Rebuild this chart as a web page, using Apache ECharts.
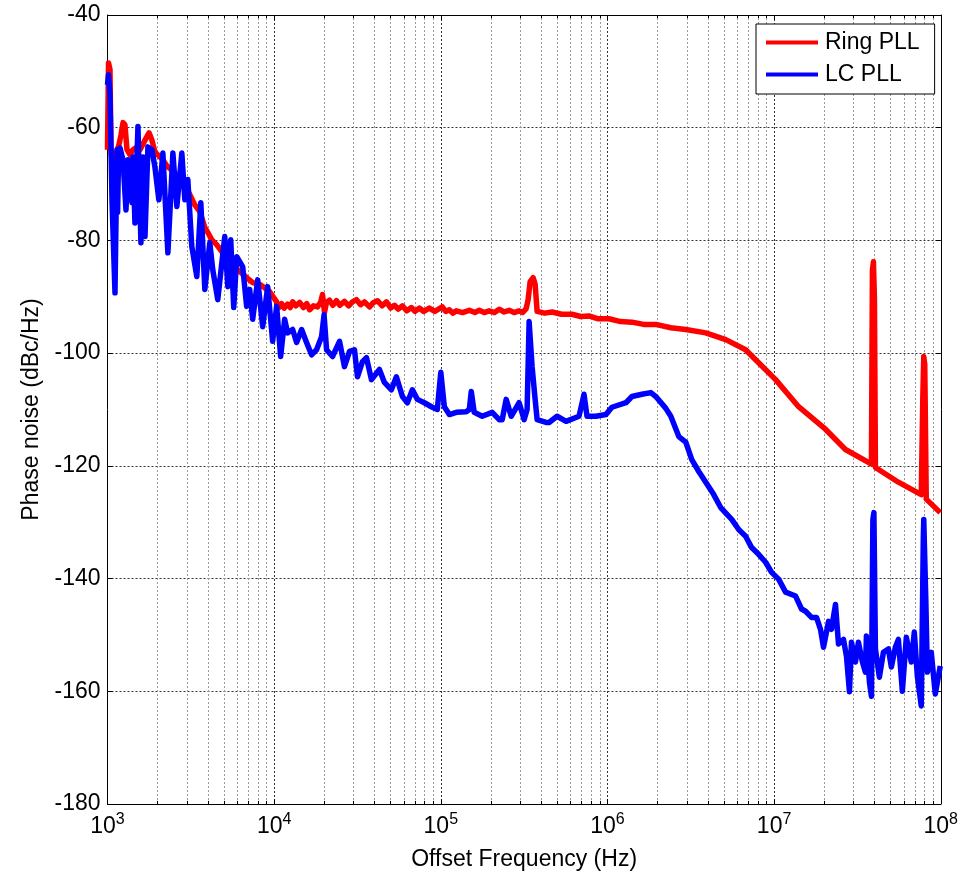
<html>
<head>
    <meta charset="utf-8">
    <title>Phase noise</title>
    <script src="https://cdn.jsdelivr.net/npm/echarts@6/dist/echarts.min.js"></script>
</head>
<style>
    body{
        margin: 0;
        background: #fff;
    }
    #chart{
        width: 961px;
        height: 876px;
    }
</style>
<body>
<div id="chart"></div>
<script>
    // values: offset frequency (Hz) and phase noise (dBc/Hz)
    var ringFreq = [1000,1014,1035,1049,1079,1124,1172,1205,1239,1273,1309,1365,1422,1503,1567,1679,1775,1847,1924,2033,2149,2271,2433,2607,2717,2911,3119,3342,3581,3837,4000,4227,4529,4853,5272,5800,6213,6840,7432,8185,8770,9400,
        10350,10700,11090,11500,12050,12500,12910,13500,14220,15000,15700,16330,17200,18200,19000,19500,20050,20600,21480,22500,23650,24800,26420,28000,29500,31190,33000,34830,37330,39500,41690,44500,47210,50000,52720,55500,58800,62500,66530,70000,74300,79000,85310,92000,
        102100,107000,112500,118000,123900,135000,148300,160000,170200,182000,195100,210000,224100,240000,257100,275000,295100,310000,325100,334200,343600,358100,368200,378500,420000,465600,530000,612600,690000,774400,880000,1021000,1200000,1403000,1650000,1951000,2400000,2951000,3890000,5129000,6745000,8072000,10210000,14030000,20330000,26790000,36810000,38370000,38900000,39450000,40000000,40550000,55680000,76390000,78000000,79060000,80170000,81850000,99310000];
    var ringDb = [-63.9,-48.5,-49.7,-63.9,-67.5,-64.8,-63.0,-61.3,-59.1,-59.5,-63.9,-64.8,-63.9,-63.4,-63.9,-62.2,-60.9,-62.2,-64.3,-65.0,-65.7,-66.8,-67.5,-68.4,-69.2,-70.1,-71.9,-73.7,-74.9,-77.7,-78.6,-79.9,-80.8,-82.0,-83.4,-84.8,-85.5,-86.6,-87.5,-87.8,-88.4,-89.1,
        -90.9,-91.9,-91.2,-92.0,-91.3,-91.9,-90.9,-91.6,-91.0,-91.9,-91.2,-92.3,-91.6,-91.8,-91.0,-89.6,-92.8,-91.0,-90.6,-91.5,-90.7,-91.5,-90.8,-91.6,-90.9,-90.5,-91.4,-90.9,-91.8,-91.0,-90.7,-91.6,-90.9,-92.0,-91.5,-92.2,-91.6,-92.5,-91.9,-92.6,-92.0,-92.6,-92.0,-92.6,
        -91.8,-92.6,-92.3,-92.9,-92.5,-92.8,-92.4,-92.8,-92.4,-92.8,-92.5,-92.8,-92.2,-92.7,-92.4,-92.8,-92.5,-92.8,-92.1,-90.5,-87.3,-86.6,-87.8,-92.6,-92.9,-92.7,-93.1,-93.1,-93.5,-93.4,-93.9,-93.9,-94.4,-94.5,-94.9,-94.9,-95.5,-95.8,-96.4,-97.6,-99.4,-101.7,-104.7,-109.5,-113.5,-117.1,-119.4,-119.7,-85.2,-83.8,-90.5,-120.3,-122.9,-125.1,-108.2,-100.6,-102.0,-125.9,-128.3];

    var lcFreq = [1000,1014,1035,1064,1109,1140,1150,1165,1188,1239,1291,1327,1365,1402,1422,1461,1523,1587,1632,1679,1748,1847,1924,2033,2149,2303,2468,2607,2793,2911,3034,3206,3435,3630,3837,4110,4282,4588,5053,5272,5489,5721,5963,6478,6840,7134,7432,7966,8535,9143,9795,10350,10940,11560,12040,12910,13640,14610,15650,16770,17970,19250,19930,20630,22400,24680,26420,28320,30340,31620,33880,35800,38360,42820,45880,50530,54140,58830,63010,67510,72340,79650,88940,95290,100000,105000,112500,123900,142100,148300,152300,158700,177200,203400,224100,233500,246800,264500,295100,316200,329600,338800,353100,368100,378500,428200,446400,498500,564400,675100,723400,754000,853500,979500,1064000,1291000,1403000,1609000,1822000,1951000,2240000,2400000,2680000,2951000,3206000,3531000,3890000,4342000,4780000,5566000,6130000,6745000,7334000,8072000,8894000,9661000,10640000,11720000,13450000,14610000,15440000,16770000,17970000,18980000,19790000,21210000,22100000,23350000,24340000,26080000,27180000,28320000,29120000,30760000,32060000,33880000,35310000,35800000,37330000,38370000,39150000,39700000,40550000,42820000,45260000,48490000,50530000,53390000,55680000,58830000,62150000,66600000,69400000,72340000,76400000,78560000,79060000,81330000,83040000,87730000,92710000,99310000];
    var lcDb = [-52.4,-50.6,-54.2,-72.8,-89.3,-63.9,-75.0,-65.0,-63.6,-65.7,-74.6,-65.7,-67.5,-73.3,-65.2,-76.9,-59.8,-80.4,-65.2,-79.3,-63.4,-63.9,-66.9,-72.8,-64.5,-82.2,-64.5,-74.0,-64.5,-72.8,-69.2,-81.1,-86.4,-73.3,-88.7,-80.4,-85.2,-90.5,-79.3,-88.2,-79.9,-91.9,-82.9,-84.7,-91.7,-88.7,-94.0,-87.0,-95.3,-88.2,-97.9,-91.7,-100.6,-94.0,-96.4,-95.8,-98.1,-95.8,-98.1,-100.3,-99.4,-97.1,-93.2,-99.4,-100.6,-97.9,-102.4,-99.7,-99.4,-104.2,-101.5,-100.8,-104.7,-102.9,-105.2,-106.5,-104.2,-107.7,-108.8,-106.5,-108.2,-108.8,-109.6,-110.0,-103.4,-109.5,-110.9,-110.5,-110.4,-110.0,-106.8,-110.5,-111.2,-110.5,-111.8,-111.8,-108.2,-111.2,-108.8,-111.8,-110.0,-94.4,-102.4,-108.2,-111.8,-112.3,-112.3,-111.2,-112.1,-111.2,-107.3,-111.2,-111.2,-110.9,-109.6,-108.8,-107.7,-107.3,-107.0,-107.7,-109.8,-111.2,-114.8,-115.8,-118.9,-121.0,-122.9,-125.1,-127.4,-129.5,-131.3,-132.5,-134.5,-135.7,-137.1,-138.9,-140.1,-142.4,-143.1,-145.4,-145.8,-146.9,-146.9,-149.0,-152.2,-147.6,-149.0,-144.6,-151.6,-150.8,-153.8,-160.1,-151.3,-154.8,-151.3,-154.8,-156.6,-150.2,-158.4,-160.9,-129.5,-128.3,-152.5,-157.5,-153.1,-152.5,-155.7,-152.2,-150.8,-160.0,-150.4,-154.8,-149.5,-157.3,-162.6,-133.0,-129.5,-143.7,-156.6,-153.1,-160.5,-155.5];

    var seriesNames = ['Ring PLL', 'LC PLL'];
    var seriesColors = ['#ff0000', '#0000ff'];
    var xMin = 1e3, xMax = 1e8;
    var yMin = -180, yMax = -40, yStep = 20;
    var minorSteps = [2, 3, 4, 5, 6, 7, 8, 9];

    function zip(a, b){
        var out = [];
        for(var i = 0; i < a.length; i++){
            out.push([a[i], b[i]]);
        }
        return out;
    }

    // minor log grid (2..9 in each decade) and the little inside ticks
    var minorGrid = [], minorTicks = [];
    for(var d = xMin; d < xMax; d *= 10){
        for(var k = 0; k < minorSteps.length; k++){
            var f = minorSteps[k] * d;
            minorGrid.push({xAxis: f});
            minorTicks.push([{coord: [f, yMin]}, {coord: [f, yMin + 0.55]}]);
            minorTicks.push([{coord: [f, yMax]}, {coord: [f, yMax - 0.55]}]);
        }
    }

    var font = 'Liberation Sans, Arial, Helvetica, sans-serif';

    var myChart = echarts.init(document.getElementById('chart'), null, {renderer: 'canvas'});
    var option = {
        animation: false,
        backgroundColor: '#fff',
        textStyle: {fontFamily: font, color: '#000'},
        grid: {left: 107.5, right: 18.5, top: 15, bottom: 71, containLabel: false},
        legend: {
            data: seriesNames,
            orient: 'vertical',
            left: 756,
            top: 24,
            icon: 'rect',
            itemWidth: 52,
            itemHeight: 4,
            itemGap: 9,
            padding: [7, 15, 8, 10],
            backgroundColor: '#fff',
            borderColor: '#000',
            borderWidth: 1,
            borderRadius: 0,
            textStyle: {fontFamily: font, fontSize: 23, lineHeight: 23, color: '#000', padding: [0, 0, 0, 2]}
        },
        xAxis: [
            {
                type: 'log',
                logBase: 10,
                min: xMin,
                max: xMax,
                name: 'Offset Frequency (Hz)',
                nameLocation: 'middle',
                nameGap: 44,
                nameTextStyle: {fontFamily: font, fontSize: 23, color: '#000'},
                axisLine: {onZero: false, lineStyle: {color: '#000', width: 1}},
                axisTick: {inside: true, length: 5, lineStyle: {color: '#000'}},
                axisLabel: {
                    margin: 8,
                    formatter: function(v){
                        var e = Math.round(Math.log(v) / Math.LN10);
                        return '{b|10}{s|' + e + '}';
                    },
                    rich: {
                        b: {fontFamily: font, fontSize: 23, color: '#000', lineHeight: 26, verticalAlign: 'bottom'},
                        s: {fontFamily: font, fontSize: 16, color: '#000', lineHeight: 16, verticalAlign: 'top'}
                    }
                },
                splitLine: {show: true, lineStyle: {color: '#333', width: 1, type: [2, 2]}}
            },
            {
                type: 'log',
                logBase: 10,
                min: xMin,
                max: xMax,
                position: 'top',
                axisLine: {onZero: false, lineStyle: {color: '#000', width: 1}},
                axisTick: {inside: true, length: 5, lineStyle: {color: '#000'}},
                axisLabel: {show: false},
                splitLine: {show: false}
            }
        ],
        yAxis: [
            {
                type: 'value',
                min: yMin,
                max: yMax,
                interval: yStep,
                name: 'Phase noise (dBc/Hz)',
                nameLocation: 'middle',
                nameGap: 64,
                nameTextStyle: {fontFamily: font, fontSize: 23, color: '#000'},
                axisLine: {onZero: false, lineStyle: {color: '#000', width: 1}},
                axisTick: {inside: true, length: 5, lineStyle: {color: '#000'}},
                axisLabel: {margin: 7, fontFamily: font, fontSize: 23, color: '#000'},
                splitLine: {show: true, lineStyle: {color: '#333', width: 1, type: [2, 2]}}
            },
            {
                type: 'value',
                min: yMin,
                max: yMax,
                interval: yStep,
                position: 'right',
                axisLine: {show: true, onZero: false, lineStyle: {color: '#000', width: 1}},
                axisTick: {show: true, inside: true, length: 5, lineStyle: {color: '#000'}},
                axisLabel: {show: false},
                splitLine: {show: false}
            }
        ],
        series: [
            {
                name: 'grid',
                type: 'line',
                data: [],
                silent: true,
                markLine: {
                    z: 1,
                    silent: true,
                    symbol: 'none',
                    label: {show: false},
                    lineStyle: {color: '#9a9a9a', width: 1, type: [2, 2]},
                    emphasis: {disabled: true},
                    data: minorGrid
                }
            },
            {
                name: 'ticks',
                type: 'line',
                data: [],
                silent: true,
                markLine: {
                    z: 1,
                    silent: true,
                    symbol: 'none',
                    label: {show: false},
                    lineStyle: {color: '#000', width: 1, type: 'solid'},
                    emphasis: {disabled: true},
                    data: minorTicks
                }
            },
            {
                name: seriesNames[0],
                type: 'line',
                data: zip(ringFreq, ringDb),
                symbol: 'none',
                showSymbol: false,
                z: 3,
                color: seriesColors[0],
                lineStyle: {color: seriesColors[0], width: 5.5, join: 'round'},
                emphasis: {disabled: true}
            },
            {
                name: seriesNames[1],
                type: 'line',
                data: zip(lcFreq, lcDb),
                symbol: 'none',
                showSymbol: false,
                z: 4,
                color: seriesColors[1],
                lineStyle: {color: seriesColors[1], width: 5.5, join: 'round'},
                emphasis: {disabled: true}
            }
        ]
    };
    myChart.setOption(option);
</script>
</body>
</html>
